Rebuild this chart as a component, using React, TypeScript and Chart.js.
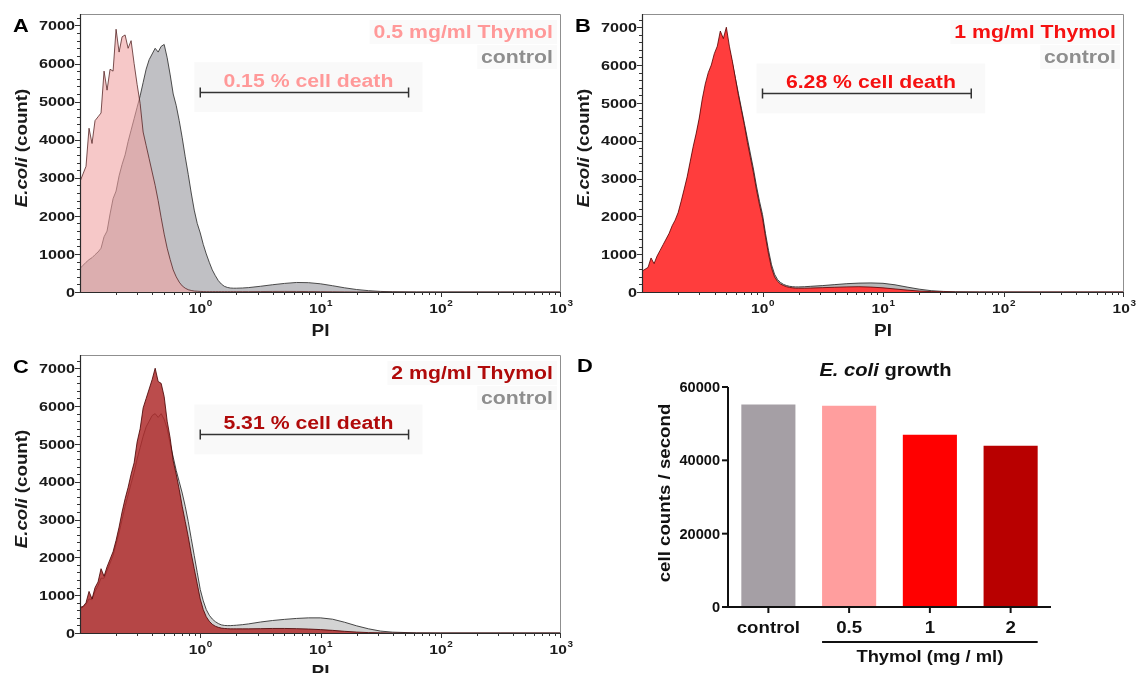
import React, { useEffect, useRef } from "react";
import { Chart, registerables } from "chart.js";
Chart.register(...registerables);

const FONT = '"Liberation Sans", Arial, Helvetica, sans-serif';

// PI channel positions (log10 of PI fluorescence)
const PI_EXP = [
  -1, -0.975, -0.95, -0.925, -0.9, -0.875, -0.85, -0.825, -0.8, -0.775,
  -0.75, -0.725, -0.7, -0.675, -0.65, -0.625, -0.6, -0.575, -0.55, -0.525,
  -0.5, -0.475, -0.45, -0.425, -0.4, -0.375, -0.35, -0.325, -0.3, -0.275,
  -0.25, -0.225, -0.2, -0.175, -0.15, -0.125, -0.1, -0.075, -0.05, -0.025,
  0, 0.025, 0.05, 0.075, 0.1, 0.125, 0.15, 0.175, 0.2, 0.225,
  0.25, 0.275, 0.3, 0.35, 0.4, 0.5, 0.6, 0.7, 0.8, 0.9,
  1.0, 1.1, 1.2, 1.3, 1.4, 1.5, 1.6, 1.8, 2.0, 2.5,
  3.0,
];

const CONTROL_A = [
  620, 700, 780, 850, 900, 980, 1050, 1150, 1450, 1600,
  2050, 2450, 2650, 3050, 3350, 3600, 3950, 4250, 4550, 4850,
  5150, 5500, 5850, 6100, 6250, 6400, 6300, 6450, 6500, 6150,
  5700, 5200, 4900, 4500, 4050, 3550, 3090, 2600, 2150, 1800,
  1550, 1250, 1000, 780, 580, 430, 300, 210, 150, 120,
  105, 100, 100, 105, 115, 150, 190, 225, 250, 245,
  215, 165, 110, 65, 35, 15, 6, 0, 0, 0,
  0,
];
const THYMOL_05 = [
  2900, 3100, 3300, 4300, 3900, 4500, 4600, 4700, 5800, 5300,
  5850, 5800, 6900, 6300, 6700, 6750, 6400, 6600, 6000, 5450,
  4950, 4200, 3850, 3500, 3150, 2800, 2400, 1950, 1520, 1150,
  850, 580, 400, 260, 160, 100, 60, 40, 25, 20,
  15, 12, 10, 10, 10, 10, 10, 10, 10, 10,
  10, 10, 10, 10, 10, 12, 14, 15, 14, 12,
  10, 7, 4, 2, 1, 0, 0, 0, 0, 0,
  0,
];
const CONTROL_B = [
  500, 560, 620, 700, 720, 850, 1000, 1150, 1300, 1450,
  1650, 1800, 2000, 2300, 2600, 2950, 3350, 3750, 4100, 4500,
  4950, 5350, 5650, 5900, 6150, 6350, 6550, 6500, 6600, 6400,
  6050, 5650, 5250, 4850, 4450, 4050, 3650, 3250, 2800, 2400,
  2050, 1550, 1100, 720, 470, 330, 250, 200, 170, 150,
  140, 135, 135, 140, 150, 170, 195, 220, 235, 240,
  230, 190, 130, 75, 35, 15, 5, 0, 0, 0,
  0,
];
const THYMOL_1 = [
  550, 600, 650, 900, 750, 950, 1100, 1250, 1400, 1550,
  1750, 1900, 2100, 2400, 2720, 3050, 3450, 3850, 4200, 4600,
  5100, 5500, 5800, 6000, 6300, 6500, 6900, 6700, 7000, 6500,
  6100, 5650, 5200, 4800, 4400, 3950, 3550, 3150, 2700, 2300,
  1950, 1450, 1000, 630, 400, 280, 210, 170, 140, 120,
  110, 100, 100, 100, 105, 115, 125, 135, 140, 130,
  110, 80, 50, 25, 10, 5, 0, 0, 0, 0,
  0,
];
const CONTROL_C = [
  650, 680, 760, 900, 880, 1100, 1250, 1450, 1450, 1650,
  1850, 2050, 2350, 2650, 3000, 3350, 3650, 3950, 4250, 4600,
  4900, 5200, 5450, 5600, 5750, 5800, 5700, 5800, 5650, 5400,
  5000, 4650, 4300, 4000, 3700, 3350, 2950, 2500, 2050, 1600,
  1150, 850, 620, 470, 370, 300, 250, 215, 200, 195,
  195, 200, 205, 220, 240, 290, 330, 360, 385, 400,
  400, 365, 285, 190, 110, 50, 22, 3, 0, 0,
  0,
];
const THYMOL_2 = [
  680, 700, 800, 1100, 900, 1200, 1350, 1700, 1500, 1750,
  1950, 2150, 2450, 2800, 3200, 3550, 3850, 4200, 4500, 5050,
  5400, 5950, 6200, 6450, 6700, 7000, 6650, 6600, 6250, 5600,
  5150, 4550, 4200, 3800, 3350, 2950, 2550, 2100, 1700, 1300,
  900, 620, 430, 310, 230, 180, 150, 130, 120, 115,
  110, 110, 110, 110, 110, 115, 120, 120, 115, 105,
  90, 70, 45, 25, 10, 5, 0, 0, 0, 0,
  0,
];

const Y_TICKS = [0, 1000, 2000, 3000, 4000, 5000, 6000, 7000];
const Y_MINOR_STEP = 200;
const X_DECADES = [0, 1, 2, 3];
const X_MIN = 0.1;
const X_MAX = 1000;
const GATE_RANGE = [1, 54];
const GATE_COUNT = 5250;
const DOSES = ["0.5", "1", "2"];
const DEATH_PCT = ["0.15", "6.28", "5.31"];

const GROWTH_CATEGORIES = ["control", "0.5", "1", "2"];
const GROWTH_VALUES = [55200, 54900, 47000, 44000];
const GROWTH_TICKS = [0, 20000, 40000, 60000];
const GROWTH_COLORS = ["#a59fa5", "#ff9e9e", "#ff0000", "#b80000"];

type Run = { t: string; italic?: boolean };

function drawRuns(
  ctx: CanvasRenderingContext2D,
  runs: Run[],
  x: number,
  y: number,
  size: number,
  color: string,
  align: "left" | "center" | "right" = "left",
  stretch = 1.18,
  rotate = 0,
  baseline: CanvasTextBaseline = "alphabetic"
) {
  ctx.save();
  ctx.translate(x, y);
  if (rotate) ctx.rotate(rotate);
  ctx.scale(stretch, 1);
  ctx.fillStyle = color;
  ctx.textBaseline = baseline;
  ctx.textAlign = "left";
  const fonts = runs.map((r) => `${r.italic ? "italic " : ""}bold ${size}px ${FONT}`);
  const widths = runs.map((r, i) => {
    ctx.font = fonts[i];
    return ctx.measureText(r.t).width;
  });
  const total = widths.reduce((a, b) => a + b, 0);
  let cx = align === "center" ? -total / 2 : align === "right" ? -total : 0;
  runs.forEach((r, i) => {
    ctx.font = fonts[i];
    ctx.fillText(r.t, cx, 0);
    cx += widths[i];
  });
  ctx.restore();
}
const T = (s: string): Run[] => [{ t: s }];

function textWidth(ctx: CanvasRenderingContext2D, s: string, size: number, stretch: number) {
  ctx.save();
  ctx.font = `bold ${size}px ${FONT}`;
  const w = ctx.measureText(s).width * stretch;
  ctx.restore();
  return w;
}

type HistProps = {
  letter: string;
  dose: string;
  death: string;
  treat: number[];
  control: number[];
  yMax: number;
  left: number;
  top: number;
  width: number;
  height: number;
  pad: { left: number; right: number; top: number; bottom: number };
  treatFill: string;
  treatLine: string;
  ctrlFill: string;
  ctrlLine: string;
  doseColor: string;
};

function HistPanel(p: HistProps) {
  const ref = useRef<HTMLCanvasElement>(null);
  useEffect(() => {
    const pts = (arr: number[]) => arr.map((v, i) => ({ x: Math.pow(10, PI_EXP[i]), y: v }));
    const decor = {
      id: "histDecor",
      beforeDatasetsDraw(chart: any) {
        const ctx: CanvasRenderingContext2D = chart.ctx;
        const a = chart.chartArea;
        const xs = chart.scales.x;
        const ys = chart.scales.y;
        const gx1 = xs.getPixelForValue(GATE_RANGE[0]);
        const gx2 = xs.getPixelForValue(GATE_RANGE[1]);
        const gy = ys.getPixelForValue(GATE_COUNT);
        ctx.save();
        ctx.fillStyle = "rgba(0,0,0,0.025)";
        ctx.fillRect(gx1 - 6, gy - 30, gx2 - gx1 + 20, 50);
        ctx.fillStyle = "rgba(0,0,0,0.018)";
        const w1 = textWidth(ctx, `${p.dose} mg/ml Thymol`, 18, 1.18);
        const w2 = textWidth(ctx, "control", 18, 1.18);
        ctx.fillRect(a.right - 8 - w1 - 4, a.top + 6, w1 + 8, 24);
        ctx.fillRect(a.right - 8 - w2 - 4, a.top + 31, w2 + 8, 24);
        ctx.restore();
      },
      afterDraw(chart: any) {
        const ctx: CanvasRenderingContext2D = chart.ctx;
        const a = chart.chartArea;
        const xs = chart.scales.x;
        const ys = chart.scales.y;
        ctx.save();
        // frame
        ctx.strokeStyle = "#8f8f8f";
        ctx.lineWidth = 1;
        ctx.beginPath();
        ctx.moveTo(a.left, a.top + 0.5);
        ctx.lineTo(a.right - 0.5, a.top + 0.5);
        ctx.lineTo(a.right - 0.5, a.bottom);
        ctx.stroke();
        ctx.strokeStyle = "#2a2a2a";
        ctx.lineWidth = 1.2;
        ctx.beginPath();
        ctx.moveTo(a.left + 0.5, a.top);
        ctx.lineTo(a.left + 0.5, a.bottom + 0.5);
        ctx.lineTo(a.right, a.bottom + 0.5);
        ctx.stroke();
        // y ticks
        ctx.lineWidth = 1;
        ctx.strokeStyle = "#333";
        const yTop = Y_TICKS[Y_TICKS.length - 1] + 1000;
        for (let v = 0; v < yTop && v <= p.yMax; v += Y_MINOR_STEP) {
          const yy = Math.round(ys.getPixelForValue(v)) + 0.5;
          const len = v % 1000 === 0 ? 5 : 3;
          ctx.beginPath();
          ctx.moveTo(a.left - len, yy);
          ctx.lineTo(a.left, yy);
          ctx.stroke();
        }
        Y_TICKS.forEach((v) =>
          drawRuns(ctx, T(String(v)), a.left - 5, ys.getPixelForValue(v) + 1, 13.5, "#1a1a1a", "right", 1.2, 0, "middle")
        );
        // x ticks
        for (let d = -1; d <= 2; d++) {
          for (let k = 1; k <= 9; k++) {
            const v = k * Math.pow(10, d);
            if (v <= X_MIN) continue;
            const xx = Math.round(xs.getPixelForValue(v)) + 0.5;
            const len = k === 1 ? 5 : 3;
            ctx.beginPath();
            ctx.moveTo(xx, a.bottom);
            ctx.lineTo(xx, a.bottom + len);
            ctx.stroke();
          }
        }
        {
          const xx = Math.round(xs.getPixelForValue(X_MAX)) - 0.5;
          ctx.beginPath();
          ctx.moveTo(xx, a.bottom);
          ctx.lineTo(xx, a.bottom + 5);
          ctx.stroke();
        }
        X_DECADES.forEach((e) => {
          const px = xs.getPixelForValue(Math.pow(10, e));
          const wBase = textWidth(ctx, "10", 13.5, 1.15);
          const wSup = textWidth(ctx, String(e), 9, 1.1);
          const start = px - (wBase + wSup) / 2;
          drawRuns(ctx, T("10"), start, a.bottom + 21, 13.5, "#1a1a1a", "left", 1.15);
          drawRuns(ctx, T(String(e)), start + wBase + 0.5, a.bottom + 14, 9, "#1a1a1a", "left", 1.1);
        });
        // axis titles
        drawRuns(ctx, T("PI"), (a.left + a.right) / 2, a.bottom + 44, 16.5, "#1a1a1a", "center", 1.15);
        drawRuns(
          ctx,
          [{ t: "E.coli", italic: true }, { t: " (count)" }],
          a.left - 57,
          (a.top + a.bottom) / 2 - 5,
          16,
          "#1a1a1a",
          "center",
          1.17,
          -Math.PI / 2,
          "middle"
        );
        drawRuns(ctx, T(p.letter), a.left - 67, a.top + 18, 19, "#000", "left", 1.15);
        // legend
        drawRuns(ctx, T(`${p.dose} mg/ml Thymol`), a.right - 8, a.top + 24, 18, p.doseColor, "right", 1.18);
        drawRuns(ctx, T("control"), a.right - 8, a.top + 49, 18, "#8e8e8e", "right", 1.18);
        // gate
        const gx1 = xs.getPixelForValue(GATE_RANGE[0]);
        const gx2 = xs.getPixelForValue(GATE_RANGE[1]);
        const gy = Math.round(ys.getPixelForValue(GATE_COUNT)) + 0.5;
        ctx.strokeStyle = "#333";
        ctx.lineWidth = 1.5;
        ctx.beginPath();
        ctx.moveTo(gx1, gy);
        ctx.lineTo(gx2, gy);
        ctx.moveTo(gx1, gy - 5);
        ctx.lineTo(gx1, gy + 5);
        ctx.moveTo(gx2, gy - 5);
        ctx.lineTo(gx2, gy + 5);
        ctx.stroke();
        drawRuns(ctx, T(`${p.death} % cell death`), (gx1 + gx2) / 2 + 4, gy - 6, 18, p.doseColor, "center", 1.18);
        ctx.restore();
      },
    };
    const chart = new Chart(ref.current!, {
      type: "line",
      data: {
        datasets: [
          {
            label: `${p.dose} mg/ml Thymol`,
            data: pts(p.treat),
            fill: "origin",
            backgroundColor: p.treatFill,
            borderColor: p.treatLine,
            borderWidth: 0.9,
            pointRadius: 0,
            tension: 0,
            order: 0,
          },
          {
            label: "control",
            data: pts(p.control),
            fill: "origin",
            backgroundColor: p.ctrlFill,
            borderColor: p.ctrlLine,
            borderWidth: 0.9,
            pointRadius: 0,
            tension: 0,
            order: 1,
          },
        ],
      },
      options: {
        responsive: false,
        animation: false,
        devicePixelRatio: 1,
        events: [],
        layout: { padding: p.pad },
        plugins: { legend: { display: false }, tooltip: { enabled: false } },
        scales: {
          x: { type: "logarithmic", min: X_MIN, max: X_MAX, display: false },
          y: { type: "linear", min: 0, max: p.yMax, display: false },
        },
      },
      plugins: [decor],
    } as any);
    return () => chart.destroy();
  }, []);
  return (
    <canvas
      ref={ref}
      width={p.width}
      height={p.height}
      style={{ position: "absolute", left: p.left, top: p.top, width: p.width, height: p.height }}
    />
  );
}

function GrowthPanel() {
  const ref = useRef<HTMLCanvasElement>(null);
  useEffect(() => {
    const decor = {
      id: "growthDecor",
      afterDraw(chart: any) {
        const ctx: CanvasRenderingContext2D = chart.ctx;
        const a = chart.chartArea;
        const ys = chart.scales.y;
        const meta = chart.getDatasetMeta(0);
        ctx.save();
        ctx.strokeStyle = "#111";
        ctx.lineWidth = 2;
        ctx.beginPath();
        ctx.moveTo(a.left, ys.getPixelForValue(GROWTH_TICKS[GROWTH_TICKS.length - 1]));
        ctx.lineTo(a.left, a.bottom);
        ctx.lineTo(a.right, a.bottom);
        ctx.stroke();
        GROWTH_TICKS.forEach((v) => {
          const yy = ys.getPixelForValue(v);
          ctx.beginPath();
          ctx.moveTo(a.left - 6, yy);
          ctx.lineTo(a.left, yy);
          ctx.stroke();
          drawRuns(ctx, T(String(v)), a.left - 8, yy + 1, 14, "#111", "right", 1.04, 0, "middle");
        });
        meta.data.forEach((el: any, i: number) => {
          ctx.beginPath();
          ctx.moveTo(el.x, a.bottom);
          ctx.lineTo(el.x, a.bottom + 6);
          ctx.stroke();
          drawRuns(ctx, T(GROWTH_CATEGORIES[i]), el.x, a.bottom + 26, 17, "#111", "center", 1.1);
        });
        const b1: any = meta.data[1];
        const b3: any = meta.data[3];
        const ux1 = b1.x - b1.width / 2;
        const ux2 = b3.x + b3.width / 2;
        ctx.beginPath();
        ctx.moveTo(ux1, a.bottom + 35);
        ctx.lineTo(ux2, a.bottom + 35);
        ctx.stroke();
        drawRuns(ctx, T("Thymol (mg / ml)"), (ux1 + ux2) / 2, a.bottom + 55, 17, "#111", "center", 1.08);
        drawRuns(
          ctx,
          [{ t: "E. coli", italic: true }, { t: " growth" }],
          (a.left + a.right) / 2 - 4,
          a.top - 11,
          18,
          "#111",
          "center",
          1.12
        );
        drawRuns(ctx, T("cell counts / second"), a.left - 63, (a.top + a.bottom) / 2 - 4, 17, "#111", "center", 1.1, -Math.PI / 2, "middle");
        drawRuns(ctx, T("D"), a.left - 151, a.top - 15, 19, "#000", "left", 1.15);
        ctx.restore();
      },
    };
    const chart = new Chart(ref.current!, {
      type: "bar",
      data: {
        labels: GROWTH_CATEGORIES,
        datasets: [
          {
            label: "cell counts / second",
            data: GROWTH_VALUES,
            backgroundColor: GROWTH_COLORS,
            borderWidth: 0,
            barPercentage: 0.67,
            categoryPercentage: 1,
          },
        ],
      },
      options: {
        responsive: false,
        animation: false,
        devicePixelRatio: 1,
        events: [],
        layout: { padding: { left: 158, right: 85, top: 57, bottom: 66 } },
        plugins: { legend: { display: false }, tooltip: { enabled: false } },
        scales: {
          x: { display: false },
          y: { display: false, min: 0, max: 60000 },
        },
      },
      plugins: [decor],
    } as any);
    return () => chart.destroy();
  }, []);
  return (
    <canvas ref={ref} width={566} height={343} style={{ position: "absolute", left: 570, top: 330, width: 566, height: 343 }} />
  );
}

export default function App() {
  return (
    <div style={{ position: "absolute", left: 0, top: 0, width: 1136, height: 673, overflow: "hidden", background: "#fff" }}>
      <HistPanel
        letter="A"
        dose={DOSES[0]}
        death={DEATH_PCT[0]}
        treat={THYMOL_05}
        control={CONTROL_A}
        yMax={7300}
        left={0}
        top={0}
        width={580}
        height={342}
        pad={{ left: 80, right: 19, top: 14, bottom: 50 }}
        treatFill="rgba(240,160,160,0.58)"
        treatLine="rgba(80,30,30,0.85)"
        ctrlFill="#c0c0c4"
        ctrlLine="#3a3a3a"
        doseColor="#ff9999"
      />
      <HistPanel
        letter="B"
        dose={DOSES[1]}
        death={DEATH_PCT[1]}
        treat={THYMOL_1}
        control={CONTROL_B}
        yMax={7350}
        left={570}
        top={0}
        width={566}
        height={342}
        pad={{ left: 72, right: 12, top: 14, bottom: 50 }}
        treatFill="#ff3d3d"
        treatLine="rgba(90,0,0,0.9)"
        ctrlFill="#b8b8b8"
        ctrlLine="#333"
        doseColor="#f51111"
      />
      <HistPanel
        letter="C"
        dose={DOSES[2]}
        death={DEATH_PCT[2]}
        treat={THYMOL_2}
        control={CONTROL_C}
        yMax={7350}
        left={0}
        top={330}
        width={580}
        height={343}
        pad={{ left: 80, right: 19, top: 25, bottom: 40 }}
        treatFill="rgba(175,45,45,0.85)"
        treatLine="rgba(70,0,0,0.9)"
        ctrlFill="#d3d3d3"
        ctrlLine="#333"
        doseColor="#b00a0a"
      />
      <GrowthPanel />
    </div>
  );
}
